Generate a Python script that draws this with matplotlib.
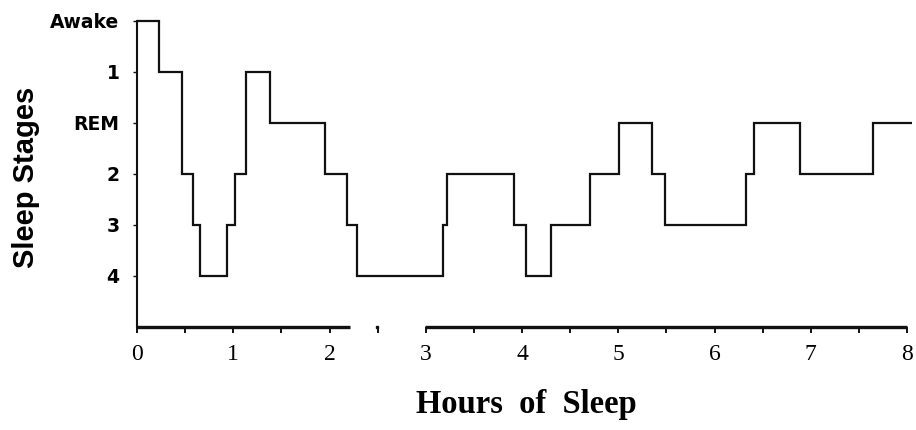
import numpy as np
import matplotlib
matplotlib.use("Agg")
import matplotlib.pyplot as plt

# hypnogram: stage entered at each time (hours)
stage_names = ["Awake", "1", "REM", "2", "3", "4"]
edges = [0.0, 0.232, 0.464, 0.579, 0.655, 0.932, 1.018, 1.129, 1.382, 1.953,
         2.179, 2.289, 3.176, 3.218, 3.920, 4.042, 4.298, 4.706, 5.011, 5.354,
         5.486, 6.327, 6.410, 6.888, 7.644, 8.049]
stages = ["Awake", "1", "2", "3", "4", "3", "2", "1", "REM", "2",
          "3", "4", "3", "2", "3", "4", "3", "2", "REM", "2",
          "3", "2", "REM", "2", "REM"]
hour_labels = ["0", "1", "2", "3", "4", "5", "6", "7", "8"]
# the scanned x axis line is broken around 2.5 h
axis_pieces = [(0.0, 2.21), (2.99, 8.0)]

level = [stage_names.index(s) for s in stages]

fig = plt.figure(figsize=(9.16, 4.30), dpi=100)
ax = fig.add_axes([137/916, 1-327/430, 770/916, 306.3/430])

ax.stairs(level, edges, baseline=None, color="#111111", lw=1.6, clip_on=False)

ax.set_xlim(0, 8)
ax.set_ylim(6, 0)

for s in ["top", "right", "bottom"]:
    ax.spines[s].set_visible(False)
ax.spines["left"].set_linewidth(1.5)
ax.spines["left"].set_color("#111111")
for a, b in axis_pieces:
    ax.plot([a, b], [6, 6], color="#111111", lw=2.4, clip_on=False,
            solid_capstyle="butt")
ax.plot([2.49], [6], marker="s", ms=1.5, color="#111111", clip_on=False)

ax.set_yticks(range(len(stage_names)))
ax.set_yticklabels(stage_names, fontfamily="DejaVu Sans", fontweight="bold",
                   fontsize=13.5)
ax.tick_params(axis="y", direction="out", length=3, width=1.0, pad=9.5,
               color="#111111")

ax.set_xticks(np.arange(len(hour_labels)))
ax.set_xticklabels(hour_labels, fontfamily="Liberation Serif", fontsize=17)
ax.set_xticks(np.arange(0.5, 8, 1), minor=True)
ax.tick_params(axis="x", which="both", direction="out", length=4, width=1.4,
               pad=8, color="#111111")

fig.text(26.5/916, 1-177/430, "Sleep Stages", rotation=90, ha="center",
         va="center", fontfamily="Liberation Sans", fontweight="bold",
         fontsize=21)
fig.text(526.5/916, 1-413/430, "Hours  of  Sleep", ha="center",
         va="baseline", fontfamily="Liberation Serif", fontweight="bold",
         fontsize=23.5)

fig.savefig("out.png", dpi=100)
